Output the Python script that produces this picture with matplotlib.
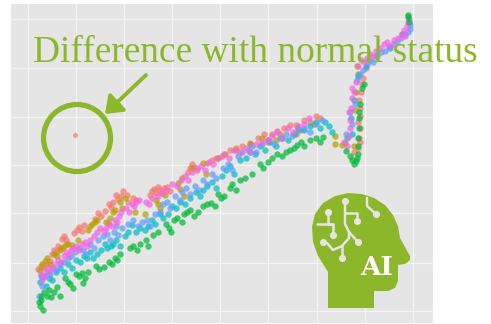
import matplotlib
matplotlib.use("Agg")
import matplotlib.pyplot as plt
from matplotlib.patches import Polygon, Circle, FancyArrowPatch

x_grid = [28, 76, 124, 172, 220, 268, 317, 365, 413]
y_grid = [13, 61, 111, 159, 207, 256, 305]

red = [(38,55),(41,58),(44,56),(47,60),(50,63),(52,70),(54,74),(56,72),(58,78),(60,76),(62,85),(64,88),(66,84),(68,80),(74,91),(77,94),(79,97),(82,93),(84,99),(95,105),(98,111),(101,108),(105,113),(109,120),(111,117),(113,122),(116,129),(118,125),(121,128),(123,133),(127,129),(133,126),(136,124),(128,122),(150,129),(152,133),(154,135),(156,131),(158,137),(160,134),(162,131),(164,136),(167,137),(170,133),(188,152),(190,156),(192,160),(194,157),(197,154),(207,161),(212,164),(216,166),(222,168),(230,174),(236,176),(242,178),(250,181),(258,186),(264,190),(268,184),(272,190),(277,193),(284,196),(290,199),(296,199),(304,204),(310,202),(316,208),(320,206),(354,172),(358,176),(359,186),(360,196),(360,208),(359,224),(361,232),(360,216),(362,240),(363,246),(366,256),(358,202),(360,182)]
olive = [(40,54),(42,60),(45,63),(47,66),(50,60),(54,70),(57,68),(60,74),(62,76),(64,78),(67,80),(72,79),(78,84),(88,94),(90,98),(92,100),(95,102),(97,104),(106,102),(108,101),(110,106),(113,112),(115,114),(120,122),(122,116),(125,126),(135,112),(145,110),(156,124),(158,120),(160,116),(165,129),(178,141),(180,135),(182,146),(184,128),(192,156),(203,161),(206,150),(218,166),(225,170),(236,174),(250,180),(262,186),(268,182),(276,184),(280,190),(296,190),(300,194),(314,200),(335,188),(342,179),(335,180),(345,181),(354,178),(356,232),(358,250),(357,258),(355,214)]
teal = [(40,42),(41,48),(43,47),(46,38),(49,46),(52,44),(56,52),(60,56),(64,52),(68,60),(72,56),(76,64),(80,62),(84,68),(87,66),(90,72),(93,66),(97,70),(101,74),(105,80),(107,76),(111,78),(113,80),(116,84),(120,78),(125,88),(128,92),(132,99),(136,92),(140,96),(145,94),(148,98),(152,104),(155,100),(160,110),(163,106),(168,110),(172,118),(176,116),(180,122),(185,120),(190,126),(196,132),(200,128),(203,134),(207,138),(212,142),(216,136),(222,148),(226,154),(230,158),(234,150),(240,164),(246,166),(250,172),(255,170),(260,178),(265,174),(270,182),(276,178),(282,186),(288,184),(294,190),(298,196),(304,194),(310,198),(316,202),(320,196),(325,202),(329,198),(332,192),(347,186),(351,206),(354,224),(358,248),(366,258),(376,268),(390,276),(402,290),(352,190)]
blue = [(39,28),(42,38),(44,48),(47,52),(50,50),(53,56),(56,54),(60,60),(64,62),(68,66),(71,68),(75,72),(79,76),(83,74),(86,70),(90,80),(94,76),(98,84),(103,88),(107,90),(110,84),(114,92),(118,89),(116,98),(122,96),(128,100),(133,104),(138,98),(142,102),(147,104),(150,98),(155,110),(160,112),(163,120),(167,122),(170,116),(175,128),(180,124),(182,132),(186,136),(190,130),(195,138),(199,134),(203,144),(207,140),(212,150),(216,146),(223,156),(228,160),(232,154),(238,168),(242,172),(248,174),(252,178),(256,172),(262,180),(268,184),(274,180),(280,186),(286,190),(292,188),(298,194),(304,196),(310,192),(316,200),(322,204),(346,190),(350,212),(352,200),(355,220),(357,244),(360,250),(363,254),(367,260),(370,264),(373,262),(377,268),(381,272),(385,273),(389,277),(393,280),(397,282),(401,286),(405,290),(408,292),(410,299),(410,295)]
magenta = [(41,50),(42,44),(44,48),(47,56),(49,52),(52,56),(55,60),(58,64),(61,62),(64,68),(66,72),(69,70),(71,74),(73,76),(76,78),(79,74),(82,80),(85,82),(87,78),(90,84),(94,88),(97,92),(100,96),(104,93),(106,96),(109,100),(112,98),(115,104),(117,102),(119,108),(121,112),(126,116),(129,112),(132,120),(134,118),(136,122),(139,124),(146,122),(149,120),(152,126),(158,128),(162,132),(166,134),(172,140),(177,138),(181,144),(185,148),(188,144),(192,152),(197,156),(201,158),(205,154),(209,162),(213,160),(218,166),(224,170),(229,166),(234,174),(240,172),(246,176),(250,172),(256,180),(262,182),(268,184),(272,188),(277,192),(282,186),(288,196),(293,192),(298,198),(304,200),(309,206),(344,182),(347,178),(349,188),(350,196),(350,204),(349,212),(351,216),(352,226),(354,232),(352,236),(356,242),(358,258),(361,264),(364,262),(367,266),(370,270),(373,268),(376,273),(380,276),(384,280),(387,282),(390,278),(394,284),(398,286),(402,290),(404,294),(407,298),(408,302),(409,305),(405,288)]
green = [(39,22),(41,28),(40,18),(41,24),(43,14),(44,32),(47,28),(49,34),(51,27),(54,32),(57,37),(60,28),(65,46),(68,42),(70,40),(73,36),(76,50),(79,48),(82,51),(85,46),(83,41),(88,52),(96,58),(99,55),(104,57),(109,62),(112,60),(115,66),(117,64),(120,70),(130,76),(133,78),(137,74),(140,80),(146,84),(148,78),(153,89),(158,92),(166,100),(169,96),(171,92),(174,104),(177,106),(182,102),(184,110),(187,112),(190,114),(194,108),(198,112),(203,118),(207,120),(211,121),(215,118),(218,130),(221,126),(224,128),(230,136),(232,140),(236,134),(240,144),(245,146),(252,150),(260,160),(263,156),(268,162),(272,166),(277,170),(282,168),(286,172),(290,174),(294,176),(297,179),(301,182),(304,178),(310,184),(316,186),(320,182),(323,187),(346,173),(350,168),(352,164),(354,160),(356,163),(357,166),(358,170),(358,178),(358,186),(359,196),(359,206),(359,212),(360,220),(362,236),(364,240),(408,307),(409,302),(408,309)]
outlier = [(75,189)]

series = [("#F8766D", red), ("#B79F00", olive), ("#00BFC4", teal),
          ("#619CFF", blue), ("#F564E3", magenta), ("#00BA38", green)]

W, H = 491, 324
fig = plt.figure(figsize=(W/100, H/100), dpi=100, facecolor="white")
ax = fig.add_axes([11/W, 1/H, 422/W, 319/H])
ax.set_facecolor("#E5E5E5")
ax.set_xlim(11, 433)
ax.set_ylim(1, 320)
ax.set_xticks(x_grid)
ax.set_yticks(y_grid)
ax.grid(True, color="#F4F4F4", lw=1.0)
ax.set_axisbelow(True)
ax.tick_params(length=0, labelbottom=False, labelleft=False)
for s in ax.spines.values():
    s.set_visible(False)

for color, pts in series:
    xs, ys = zip(*pts)
    ax.scatter(xs, ys, s=21, color=color, alpha=0.72, linewidths=0)
ox, oy = zip(*outlier)
ax.scatter(ox, oy, s=13, color="#F8766D", alpha=0.7, linewidths=0)

ov = fig.add_axes([0, 0, 1, 1], facecolor="none")
ov.set_xlim(0, W)
ov.set_ylim(H, 0)
ov.axis("off")
GR = "#8DB72A"
ov.text(33, 62, "Difference with normal status", color=GR, family="Liberation Serif",
        fontsize=26.9, ha="left", va="baseline")
ov.add_patch(Circle((77, 138), 33.5, fc="none", ec=GR, lw=3.8))
ov.add_patch(FancyArrowPatch((146, 75), (105, 114), arrowstyle="-|>,head_length=6,head_width=4.5",
                             color=GR, lw=2.8, mutation_scale=1.6, shrinkA=0, shrinkB=0))
head = [(328,308),(374,308),(374,291),(388,291),(395,288),(398,281),(398,265),(405,264),(410,260),(410,256),
        (400,238),(398,226),(393,215),(385,205),(374,198),(362,194),(348,193),(335,196),(323,203),(315,214),
        (312,227),(313,242),(318,256),(328,272)]
ov.add_patch(Polygon(head, closed=True, fc=GR, ec="none"))
LN = "#E5E5E5"
paths = [[(345,201),(345,224),(349,232),(349,238),(342,246),(333,250),(327,243),(323,242)],
         [(345,213),(357,213),(357,221)],[(349,232),(358,242)],[(342,246),(342,258)],
         [(328,212),(328,224),(333,224),(333,235)],[(317,224),(333,224)],
         [(367,198),(367,206),(376,214)]]
for p in paths:
    ov.plot(*zip(*p), color=LN, lw=1.8, solid_capstyle="round")
ov.scatter([345,357,358,342,323,328,333,376], [201,221,242,258,242,212,235,214], s=26, color=LN, linewidths=0)
ov.text(376.5, 275, "AI", color="white", family="DejaVu Serif", weight="bold",
        fontsize=19, ha="center", va="baseline")
fig.savefig("out.png", dpi=100, facecolor="white")
